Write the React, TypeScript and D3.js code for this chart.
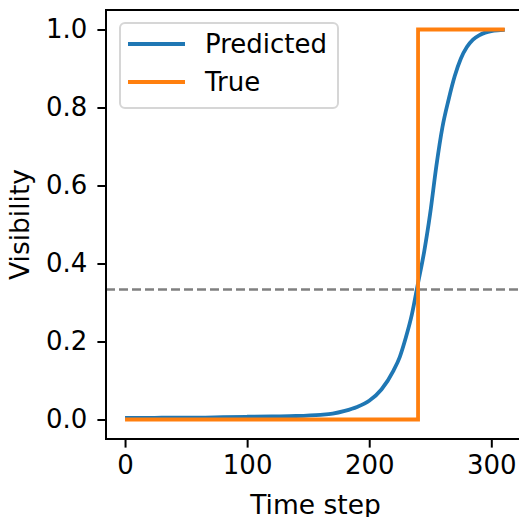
import React, { useEffect, useRef } from 'react';
import * as d3 from 'd3';

// predicted visibility
const predSteps = [0, 20, 40, 60, 80, 100, 120, 140, 160, 170, 180, 190, 200, 210, 220, 225, 230, 235, 240, 245, 250, 255, 260, 265, 270, 275, 280, 285, 290, 295, 300, 305, 311];
const predValues = [0.004, 0.004, 0.005, 0.005, 0.006, 0.007, 0.008, 0.009, 0.012, 0.015, 0.022, 0.032, 0.048, 0.077, 0.126, 0.16, 0.21, 0.27, 0.35, 0.43, 0.53, 0.65, 0.75, 0.82, 0.88, 0.925, 0.955, 0.974, 0.985, 0.992, 0.996, 0.998, 0.999];

// ground truth step
const trueSteps = [0, 240, 240, 311];
const trueValues = [0, 0, 1, 1];

const threshold = 1 / 3;
const xTicks = [0, 100, 200, 300];
const yTicks = [0, 0.2, 0.4, 0.6, 0.8, 1.0];
const legendLabels = ['Predicted', 'True'];
const colors = ['#1f77b4', '#ff7f0e'];

export default function App() {
  const svgRef = useRef<SVGSVGElement>(null);

  useEffect(() => {
    const svg = d3.select(svgRef.current);
    svg.selectAll('*').remove();

    const width = 519;
    const height = 517;
    const left = 106, right = 525, top = 10, bottom = 439;
    const font = 'DejaVu Sans, sans-serif';
    const fs = 26;

    const xMax = 312;
    const x = d3.scaleLinear().domain([-0.05 * xMax, xMax * 1.05]).range([left, right]);
    const y = d3.scaleLinear().domain([-0.05, 1.05]).range([bottom, top]);

    svg.attr('width', width).attr('height', height);

    // threshold
    svg.append('line')
      .attr('x1', left).attr('x2', right)
      .attr('y1', y(threshold)).attr('y2', y(threshold))
      .attr('stroke', '#808080').attr('stroke-width', 2.4)
      .attr('stroke-dasharray', '9,4');

    const line = d3.line<[number, number]>().x(d => x(d[0])).y(d => y(d[1]));

    svg.append('path')
      .datum(predSteps.map((s, i) => [s, predValues[i]] as [number, number]))
      .attr('d', line.curve(d3.curveMonotoneX))
      .attr('fill', 'none').attr('stroke', colors[0]).attr('stroke-width', 3.8)
      .attr('stroke-linejoin', 'round');

    svg.append('path')
      .datum(trueSteps.map((s, i) => [s, trueValues[i]] as [number, number]))
      .attr('d', line.curve(d3.curveLinear))
      .attr('fill', 'none').attr('stroke', colors[1]).attr('stroke-width', 3.8)
      .attr('stroke-linejoin', 'miter');

    // spines
    svg.append('rect')
      .attr('x', left).attr('y', top)
      .attr('width', right - left).attr('height', bottom - top)
      .attr('fill', 'none').attr('stroke', '#000').attr('stroke-width', 2);

    // x axis
    const xa = svg.append('g').attr('transform', `translate(0,${bottom})`)
      .call(d3.axisBottom(x).tickValues(xTicks).tickSize(8.6).tickPadding(8).tickFormat(d3.format('d')));
    xa.select('.domain').remove();
    xa.selectAll('line').attr('stroke-width', 2);
    xa.selectAll('text').attr('font-family', font).attr('font-size', fs).attr('fill', '#000');

    const ya = svg.append('g').attr('transform', `translate(${left},0)`)
      .call(d3.axisLeft(y).tickValues(yTicks).tickSize(8.6).tickPadding(10).tickFormat(d3.format('.1f')));
    ya.select('.domain').remove();
    ya.selectAll('line').attr('stroke-width', 2);
    ya.selectAll('text').attr('font-family', font).attr('font-size', fs).attr('fill', '#000');

    svg.append('text')
      .attr('x', (left + right) / 2).attr('y', 514)
      .attr('text-anchor', 'middle')
      .attr('font-family', font).attr('font-size', 26.5)
      .text('Time step');

    svg.append('text')
      .attr('transform', `translate(29,${(top + bottom) / 2}) rotate(-90)`)
      .attr('text-anchor', 'middle')
      .attr('font-family', font).attr('font-size', 26.5)
      .text('Visibility');

    // legend
    const lg = svg.append('g');
    lg.append('rect')
      .attr('x', 120).attr('y', 23).attr('width', 218).attr('height', 85)
      .attr('rx', 5).attr('fill', 'rgba(255,255,255,0.8)')
      .attr('stroke', '#d6d6d6').attr('stroke-width', 2);
    legendLabels.forEach((lab, i) => {
      const ly = 44 + i * 38;
      lg.append('line')
        .attr('x1', 128).attr('x2', 185).attr('y1', ly).attr('y2', ly)
        .attr('stroke', colors[i]).attr('stroke-width', 3.8);
      lg.append('text')
        .attr('x', 205).attr('y', ly).attr('dy', '0.36em')
        .attr('font-family', font).attr('font-size', fs)
        .text(lab);
    });
  }, []);

  return (
    <svg ref={svgRef} style={{ position: 'absolute', left: 0, top: 0, background: '#fff' }}></svg>
  );
}
